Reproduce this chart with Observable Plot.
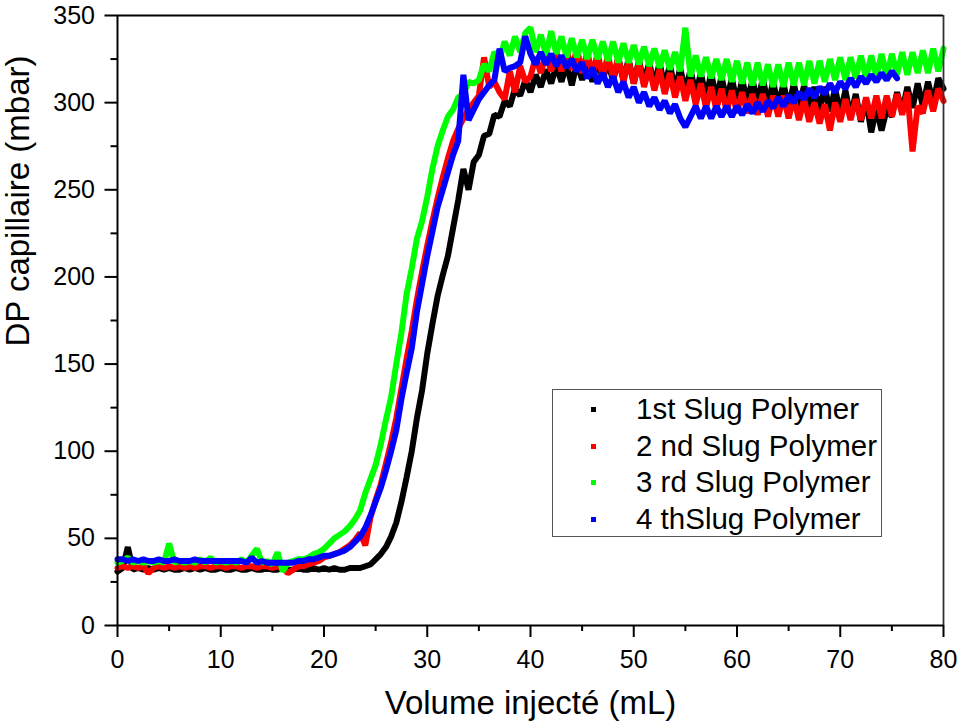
<!DOCTYPE html>
<html><head><meta charset="utf-8">
<script src="https://cdn.jsdelivr.net/npm/d3@7"></script>
<script src="https://cdn.jsdelivr.net/npm/@observablehq/plot@0.6"></script>
<style>
body{margin:0;background:#fff;}
#wrap{position:relative;width:958px;height:726px;font-family:"Liberation Sans",Arial,sans-serif;}
#legend{position:absolute;left:552px;top:389px;width:330px;height:148px;border:1px solid #555;box-sizing:border-box;}
.row{position:absolute;left:0;height:36.67px;line-height:36.67px;font-size:29.5px;white-space:nowrap;color:#000;}
.mk{position:absolute;left:38px;width:5px;height:5px;top:16px;}
.lb{position:absolute;left:83px;top:0;}
</style></head><body><div id="wrap"></div><script>
const volume = [
0,0.5,1,1.5,2,2.5,3,3.5,4,4.5,
5,5.5,6,6.5,7,7.5,8,8.5,9,9.5,
10,10.5,11,11.5,12,12.5,13,13.5,14,14.5,
15,15.5,16,16.5,17,17.5,18,18.5,19,19.5,
20,20.5,21,21.5,22,22.5,23,23.5,24,24.5,
25,25.5,26,26.5,27,27.5,28,28.5,29,29.5,
30,30.5,31,31.5,32,32.5,33,33.5,34,34.5,
35,35.5,36,36.5,37,37.5,38,38.5,39,39.5,
40,40.5,41,41.5,42,42.5,43,43.5,44,44.5,
45,45.5,46,46.5,47,47.5,48,48.5,49,49.5,
50,50.5,51,51.5,52,52.5,53,53.5,54,54.5,
55,55.5,56,56.5,57,57.5,58,58.5,59,59.5,
60,60.5,61,61.5,62,62.5,63,63.5,64,64.5,
65,65.5,66,66.5,67,67.5,68,68.5,69,69.5,
70,70.5,71,71.5,72,72.5,73,73.5,74,74.5,
75,75.5,76,76.5,77,77.5,78,78.5,79,79.5,
80];

const slug1 = [
31,33,45,32,33,32,33,32,33,32,
33,32,32,33,32,33,32,33,32,32,
33,32,32,33,32,32,33,32,32,33,
32,32,33,32,32,33,32,32,33,32,
33,32,33,32,32,33,33,33,34,35,
38,41,45,51,59,71,85,100,119,135,
156,173,189,201,212,228,244,262,250,266,
270,281,282,293,292,301,298,308,304,313,
306,316,309,319,311,321,312,322,310,323,
313,324,312,325,313,324,312,326,313,325,
311,324,312,323,310,323,309,322,307,320,
306,319,305,317,303,317,302,315,301,314,
300,313,301,313,300,314,299,312,298,311,
297,311,297,310,296,309,295,309,295,308,
294,307,292,305,289,302,283,297,284,296,
292,306,295,309,297,311,298,312,300,314,
308];

const slug2 = [
33,34,33,34,33,34,30,33,34,33,
34,33,34,33,34,33,34,34,33,34,
34,33,34,34,33,34,34,33,34,34,
33,34,33,30,32,34,34,35,36,37,
39,40,41,42,44,46,49,53,46,62,
72,81,93,105,119,136,153,169,187,203,
218,232,245,257,268,278,285,291,296,300,
304,326,309,312,306,302,318,306,321,312,
315,326,317,328,318,329,318,330,319,331,
317,329,316,328,315,327,314,326,312,324,
311,323,309,320,307,319,305,317,303,315,
301,313,299,311,297,309,296,308,295,307,
294,306,294,305,293,305,292,304,292,304,
291,303,290,302,289,300,288,299,284,300,
289,302,290,302,290,303,291,304,291,304,
292,305,293,306,272,298,294,307,295,308,
301];

const slug3 = [
36,37,39,36,37,36,37,36,37,36,
47,36,37,36,37,36,38,36,39,36,
37,36,37,36,38,36,40,44,36,37,
35,42,31,36,37,38,38,39,41,42,
44,47,50,52,54,57,61,66,76,84,
92,104,118,131,150,168,190,205,222,232,
246,262,275,284,292,296,303,305,312,311,
313,322,318,329,325,335,327,338,329,340,
343,329,339,327,341,328,338,326,337,326,
336,325,336,325,335,324,335,323,334,323,
333,322,332,321,331,320,330,319,329,318,
343,315,327,315,326,314,325,313,325,312,
324,311,323,310,323,310,322,309,322,309,
323,310,323,310,324,311,324,312,325,313,
326,313,326,314,327,314,327,315,328,315,
328,316,329,316,329,317,330,317,331,318,
331];

const slug4 = [
38,38,37,38,37,38,37,37,38,37,
37,38,37,37,37,38,37,37,37,37,
37,37,37,37,37,36,39,36,37,36,
36,36,36,36,36,37,37,38,38,39,
40,40,41,42,43,45,48,51,56,63,
71,79,89,100,112,130,145,159,180,196,
212,226,240,250,260,270,278,316,290,296,
302,306,310,313,331,318,320,321,323,338,
328,322,329,322,328,321,327,320,325,318,
323,314,320,311,317,309,315,306,312,303,
309,300,306,298,303,296,301,294,299,291,
286,292,298,291,298,291,298,292,298,292,
298,293,299,294,300,295,301,297,303,298,
304,300,306,302,308,303,309,305,311,306,
312,308,314,309,315,311,316,312,317,313,
318,314];

const seriesNames = ["1st Slug Polymer", "2 nd Slug Polymer", "3 rd Slug Polymer", "4 thSlug Polymer"];
const seriesColors = ["#000000", "#ff0000", "#00ff00", "#0000ff"];
const seriesValues = [slug1, slug2, slug3, slug4];

const xMajor = [0,10,20,30,40,50,60,70,80];
const xMinor = [5,15,25,35,45,55,65,75];
const yMajor = [0,50,100,150,200,250,300,350];
const yMinor = [25,75,125,175,225,275,325];
const xTitle = "Volume injecté (mL)";
const yTitle = "DP capillaire (mbar)";

const tables = seriesValues.map(vals => vals.map((v, i) => ({x: volume[i], y: v})));

const chart = Plot.plot({
  width: 958, height: 726,
  marginLeft: 117, marginRight: 15, marginTop: 15, marginBottom: 101,
  style: {fontFamily: '"Liberation Sans", Arial, sans-serif', background: "#fff", color: "#000", overflow: "visible"},
  x: {domain: [0, 80]},
  y: {domain: [0, 350]},
  marks: [
    ...tables.map((t, i) => Plot.line(t, {x: "x", y: "y", stroke: seriesColors[i], strokeWidth: 6, strokeLinejoin: "bevel"})),
    Plot.ruleY([350], {stroke: "#000", strokeWidth: 2}),
    Plot.ruleX([80], {stroke: "#333", strokeWidth: 1.8}),
    Plot.ruleX([0], {stroke: "#000", strokeWidth: 2}),
    Plot.ruleY([0], {stroke: "#000", strokeWidth: 2}),
    Plot.axisX({ticks: xMajor, tickSize: 12, tickPadding: 13, strokeWidth: 2, fontSize: 25, label: null, tickFormat: d => String(d)}),
    Plot.axisX({ticks: xMinor, tickSize: 6, strokeWidth: 2, label: null, tickFormat: () => ""}),
    Plot.axisY({ticks: yMajor, tickSize: 12.5, tickPadding: 10, strokeWidth: 2, fontSize: 25, label: null, tickFormat: d => String(d)}),
    Plot.axisY({ticks: yMinor, tickSize: 6.5, strokeWidth: 2, label: null, tickFormat: () => ""}),
    Plot.text([xTitle], {text: d => d, frameAnchor: "bottom", dy: 78, fontSize: 33, lineAnchor: "middle", fill: "#000"}),
    Plot.text([yTitle], {text: d => d, frameAnchor: "left", rotate: -90, dx: -99, dy: 26, fontSize: 33, lineAnchor: "middle", fill: "#000"})
  ]
});

const wrap = document.getElementById("wrap");
wrap.appendChild(chart);

const legend = document.createElement("div");
legend.id = "legend";
seriesNames.forEach((name, i) => {
  const row = document.createElement("div");
  row.className = "row";
  row.style.top = (1 + i * 36.67) + "px";
  const mk = document.createElement("div");
  mk.className = "mk";
  mk.style.background = seriesColors[i];
  const lb = document.createElement("div");
  lb.className = "lb";
  lb.textContent = name;
  row.appendChild(mk);
  row.appendChild(lb);
  legend.appendChild(row);
});
wrap.appendChild(legend);
</script></body></html>
